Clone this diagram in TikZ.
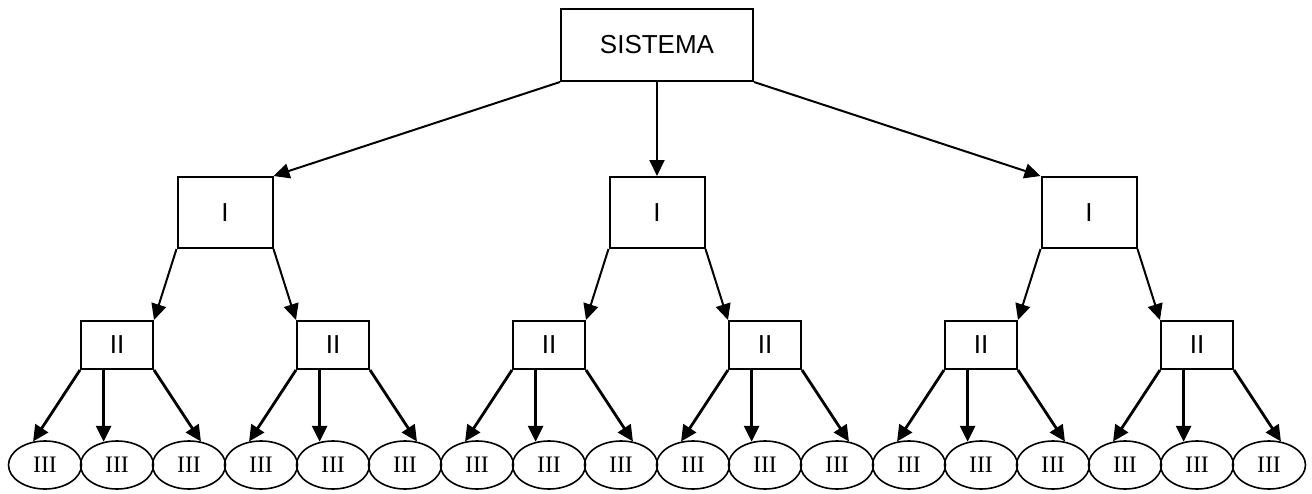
\documentclass[tikz,border=0pt]{standalone}
\usepackage{fontspec}
\setmainfont{Liberation Serif}
\setsansfont{Liberation Sans}
\usetikzlibrary{arrows.meta,shapes.geometric}
\tikzset{
	box/.style={draw, line width=1pt, inner sep=0pt, font=\sffamily\fontsize{13}{15}\selectfont},
	leaf/.style={draw, ellipse, line width=0.8pt, minimum width=36.5pt, minimum height=24pt, inner sep=0pt, font=\fontsize{11.8}{13}\selectfont},
	link/.style={line width=1pt, -{Triangle[length=8pt,width=7.5pt]}},
	thick link/.style={link, line width=1.4pt}
}
\begin{document}
\begin{tikzpicture}[x=0.5pt,y=-0.5pt]
				\useasboundingbox (0,0) rectangle (1312,493);
				\node[box, minimum width=96pt, minimum height=36pt] (S) at (657,45) {SISTEMA};
				\foreach \i in {0,1,2}
					\node[box, minimum width=47.5pt, minimum height=35.5pt] (I\i) at ({225+432*\i},212.5) {I};
				\draw[link] (S.south west) -- (I0.north east);
				\draw[link] (S.south) -- (I1.north);
				\draw[link] (S.south east) -- (I2.north west);
				\foreach \k in {0,...,17}
					\node[leaf] (L\k) at ({45+72*\k},465) {III};
				\foreach \j in {0,...,5} {
					\pgfmathtruncatemacro{\a}{3*\j}
					\pgfmathtruncatemacro{\b}{3*\j+1}
					\pgfmathtruncatemacro{\c}{3*\j+2}
					\node[box, minimum width=36pt, minimum height=24pt] (II\j) at ({117+216*\j},345) {II};
					\draw[thick link] (II\j.south west) -- (L\a.117);
					\draw[thick link] (L\b.120 |- II\j.south) -- (L\b.120);
					\draw[thick link] (II\j.south east) -- (L\c.63);
				}
				\foreach \j/\p in {0/0,2/1,4/2}
					\draw[link] (I\p.south west) -- (II\j.north east);
				\foreach \j/\p in {1/0,3/1,5/2}
					\draw[link] (I\p.south east) -- (II\j.north west);
			\end{tikzpicture}
\end{document}
